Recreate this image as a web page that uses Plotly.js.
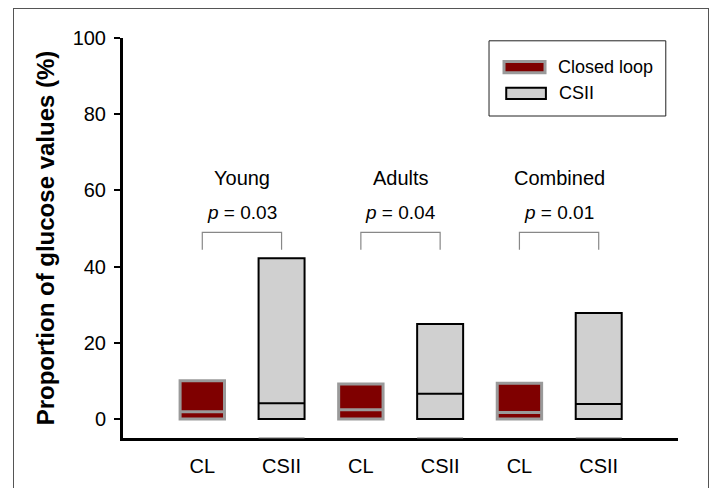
<!DOCTYPE html>
<html>
<head>
<meta charset="utf-8">
<script src="https://cdn.plot.ly/plotly-3.0.1.min.js"></script>
<style>
  html, body { margin: 0; padding: 0; background: #fff; overflow: hidden; }
  #wrap { position: relative; width: 712px; height: 488px; }
  #chart { position: absolute; left: 0; top: 0; width: 712px; height: 488px; }
  #frame { position: absolute; left: 13px; top: 8px; width: 694px; height: 600px;
           border: 1px solid #555; pointer-events: none; }
</style>
</head>
<body>
<div id="wrap">
  <div id="chart"></div>
  <div id="frame"></div>
</div>
<script>
// ---- data ----
const categories   = ['CL', 'CSII', 'CL', 'CSII', 'CL', 'CSII'];
const groups       = ['Young', 'Adults', 'Combined'];
const pValues      = ['0.03', '0.04', '0.01'];
const clTop        = [10.0, 9.2, 9.4];
const clMedian     = [1.9, 2.4, 1.7];
const csiiTop      = [42.2, 24.9, 27.8];
const csiiMedian   = [4.1, 6.6, 3.9];
const yTicks       = [0, 20, 40, 60, 80, 100];
const seriesNames  = ['Closed loop', 'CSII'];

// ---- build chart ----
const clX   = groups.map((g, i) => 2 * i);
const csiiX = groups.map((g, i) => 2 * i + 1);
const clW = 0.56, csW = 0.58;
const red = '#7f0000', lightGray = '#d0d0d0', clEdge = '#9a9a9a';

const traces = [
  { type: 'bar', name: seriesNames[0], x: clX, y: clTop, base: 0, width: clW,
    marker: { color: red, line: { color: clEdge, width: 3 } }, showlegend: false, hoverinfo: 'y' },
  { type: 'bar', name: seriesNames[1], x: csiiX, y: csiiTop, base: 0, width: csW,
    marker: { color: lightGray, line: { color: '#000', width: 2 } }, showlegend: false, hoverinfo: 'y' }
];

const shapes = [];
// median lines
clX.forEach((x, i) => shapes.push({ type: 'line', xref: 'x', yref: 'y',
  x0: x - clW / 2, x1: x + clW / 2, y0: clMedian[i], y1: clMedian[i],
  line: { color: clEdge, width: 3 } }));
csiiX.forEach((x, i) => shapes.push({ type: 'line', xref: 'x', yref: 'y',
  x0: x - csW / 2, x1: x + csW / 2, y0: csiiMedian[i], y1: csiiMedian[i],
  line: { color: '#000', width: 2 } }));
// grey marks on the x axis under CSII boxes
csiiX.forEach((x) => shapes.push({ type: 'line', xref: 'x', yref: 'paper', layer: 'above',
  x0: x - csW / 2, x1: x + csW / 2, y0: 0, y1: 0,
  line: { color: '#707070', width: 1.2 } }));
// significance brackets
const brTop = 49, brLeg = 44.4;
groups.forEach((g, i) => shapes.push({ type: 'path', xref: 'x', yref: 'y',
  path: `M ${clX[i]},${brLeg} L ${clX[i]},${brTop} L ${csiiX[i]},${brTop} L ${csiiX[i]},${brLeg}`,
  line: { color: '#888', width: 1.2 } }));

// custom legend (paper coords)
shapes.push({ type: 'rect', xref: 'paper', yref: 'paper', x0: 0.6595, x1: 0.978, y0: 0.805, y1: 0.993,
  line: { color: '#222', width: 1 }, fillcolor: 'rgba(0,0,0,0)' });
shapes.push({ type: 'rect', xref: 'paper', yref: 'paper', x0: 0.6865, x1: 0.7604, y0: 0.913, y1: 0.941,
  line: { color: clEdge, width: 3 }, fillcolor: red });
shapes.push({ type: 'rect', xref: 'paper', yref: 'paper', x0: 0.6905, x1: 0.762, y0: 0.8475, y1: 0.8755,
  line: { color: '#000', width: 2 }, fillcolor: lightGray });

const annotations = [];
groups.forEach((g, i) => {
  const cx = (clX[i] + csiiX[i]) / 2;
  annotations.push({ xref: 'x', yref: 'y', x: cx, y: 63.2, text: g, showarrow: false,
    font: { size: 20, color: '#000' } });
  annotations.push({ xref: 'x', yref: 'y', x: cx, y: 54.2, text: '<i>p</i> = ' + pValues[i], showarrow: false,
    font: { size: 19, color: '#000' } });
});
annotations.push({ xref: 'paper', yref: 'paper', x: 0.780, y: 0.928, xanchor: 'left', yanchor: 'middle',
  text: seriesNames[0], showarrow: false, font: { size: 18, color: '#000' } });
annotations.push({ xref: 'paper', yref: 'paper', x: 0.782, y: 0.863, xanchor: 'left', yanchor: 'middle',
  text: seriesNames[1], showarrow: false, font: { size: 18, color: '#000' } });

const layout = {
  width: 712, height: 488,
  margin: { l: 123, r: 34, t: 38, b: 50 },
  paper_bgcolor: 'rgba(0,0,0,0)', plot_bgcolor: 'rgba(0,0,0,0)',
  font: { family: 'Liberation Sans, Arial, sans-serif', color: '#000' },
  showlegend: false,
  barmode: 'overlay',
  xaxis: {
    range: [-1, 6], tickmode: 'array', tickvals: categories.map((c, i) => i), ticktext: categories,
    showline: true, linecolor: '#000', linewidth: 3, ticks: '', showgrid: false, zeroline: false,
    tickfont: { size: 20 }, ticklabelstandoff: 8, fixedrange: true
  },
  yaxis: {
    range: [-5, 100], tickmode: 'array', tickvals: yTicks,
    showline: true, linecolor: '#000', linewidth: 3, ticks: 'outside', ticklen: 6, tickwidth: 2,
    tickcolor: '#000', showgrid: false, zeroline: false, tickfont: { size: 20 },
    ticklabelstandoff: 4,
    title: { text: '<b>Proportion of glucose values (%)</b>', font: { size: 24 }, standoff: 12 },
    fixedrange: true
  },
  shapes: shapes,
  annotations: annotations
};

Plotly.newPlot('chart', traces, layout, { displayModeBar: false, staticPlot: true });
</script>
</body>
</html>
